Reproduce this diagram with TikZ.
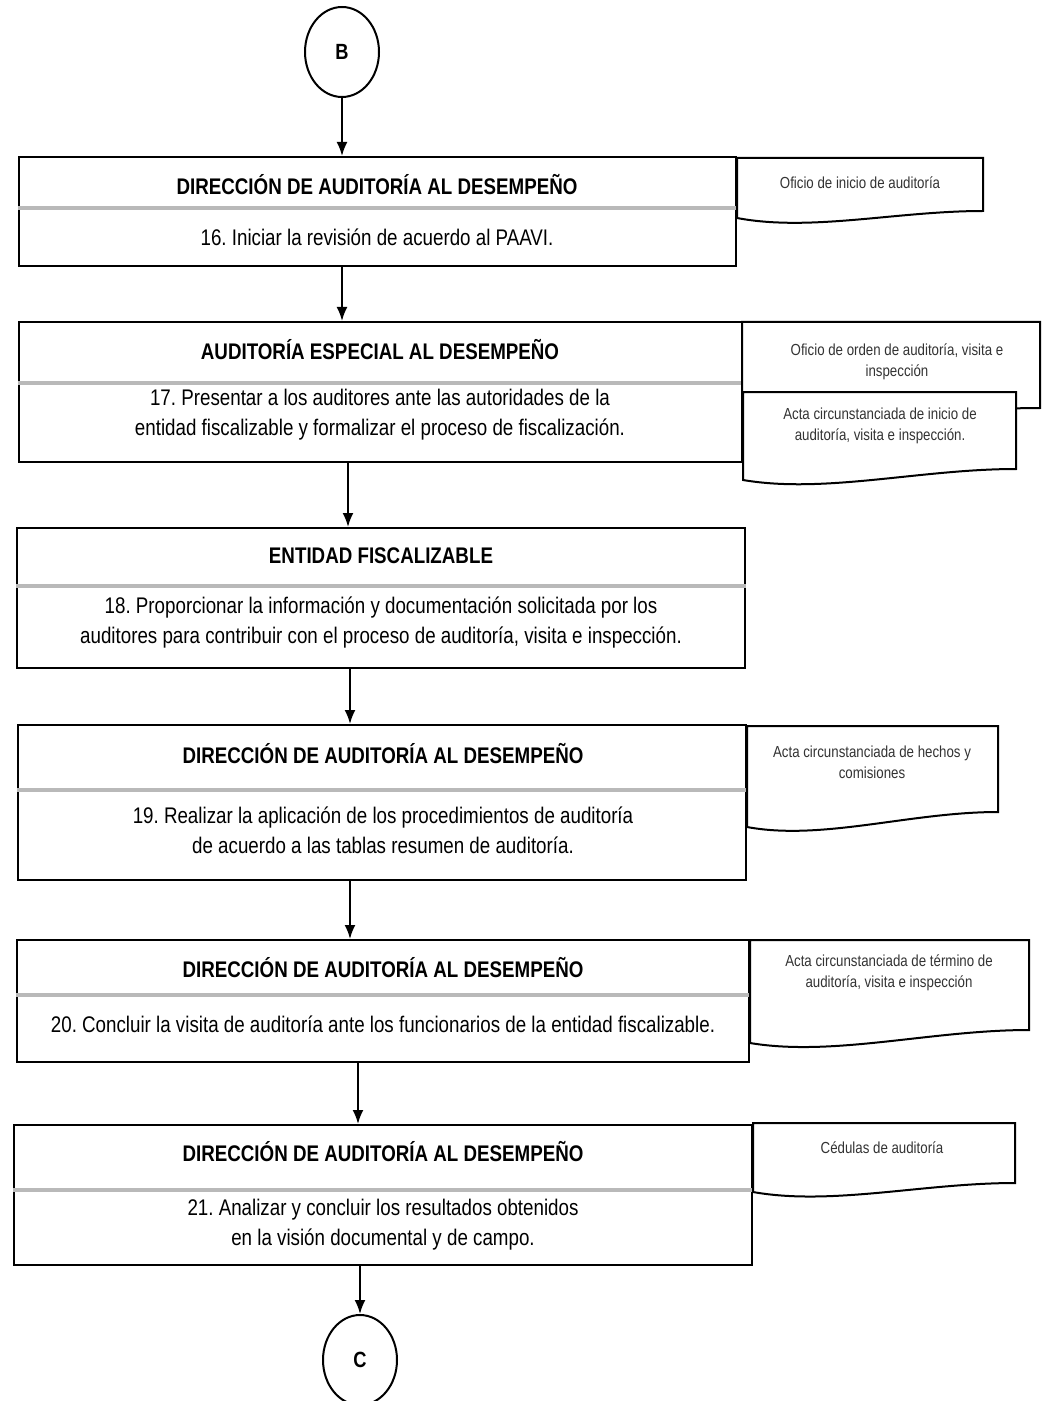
\documentclass[tikz,border=0pt]{standalone}
\usepackage{fontspec}
\setmainfont{Liberation Sans}[FakeStretch=0.83]
\usepackage{tikz}
\usetikzlibrary{arrows.meta,shapes.geometric}
\frenchspacing

% document symbol: x left, y top, x right, y bottom right, y bottom left
\newcommand{\docform}[5]{%
  \draw[docline] (#1,#2) -- (#3,#2) -- (#3,#4)
    .. controls ({#3-0.35*(#3-#1)},#4) and ({#1+0.3*(#3-#1)},{#5+14}) .. (#1,#5) -- cycle;}

\begin{document}
\begin{tikzpicture}[x=0.5pt,y=-0.5pt]
\tikzset{frame/.style = {shape=rectangle,draw,line width=1pt,inner sep=0pt}}
\tikzset{connector/.style = {shape=ellipse,draw,line width=1pt,minimum width=37pt,minimum height=45pt,inner sep=0pt,font=\bfseries\fontsize{11}{13}\selectfont}}
\tikzset{title/.style = {font=\bfseries\fontsize{11.3}{13}\selectfont}}
\tikzset{task/.style = {align=center,font=\fontsize{11.3}{15}\selectfont}}
\tikzset{divider/.style = {gray!55,line width=1.6pt}}
\tikzset{docline/.style = {draw,fill=white,line width=1pt}}
\tikzset{doctext/.style = {align=center,text=black!80,font=\fontsize{8}{10.5}\selectfont}}
\tikzset{edge/.style = {line width=1pt,-{Latex[length=7pt,width=5.5pt]}}}
\useasboundingbox (0,0) rectangle (1042,1401);

% connectors
\node[connector] (b) at (342,52) {B};
\node[connector] (c) at (360,1360) {C};

% frames
\node[frame,minimum width=358.5pt,minimum height=54.5pt] (f16) at (377.5,211.5) {};
\node[frame,minimum width=361.5pt,minimum height=70pt] (f17) at (380.5,392) {};
\node[frame,minimum width=364pt,minimum height=70pt] (f18) at (381,598) {};
\node[frame,minimum width=364pt,minimum height=77.5pt] (f19) at (382,802.5) {};
\node[frame,minimum width=366pt,minimum height=61pt] (f20) at (383,1001) {};
\node[frame,minimum width=369pt,minimum height=70pt] (f21) at (383,1195) {};

% dividers
\draw[divider] (f16.west |- 0,208) -- (f16.east |- 0,208);
\draw[divider] (f17.west |- 0,383) -- (f17.east |- 0,383);
\draw[divider] (f18.west |- 0,586) -- (f18.east |- 0,586);
\draw[divider] (f19.west |- 0,790) -- (f19.east |- 0,790);
\draw[divider] (f20.west |- 0,995) -- (f20.east |- 0,995);
\draw[divider] (f21.west |- 0,1190) -- (f21.east |- 0,1190);

% titles
\node[title] (t16) at (377,185) {DIRECCIÓN DE AUDITORÍA AL DESEMPEÑO};
\node[title] (t17) at (380,350) {AUDITORÍA ESPECIAL AL DESEMPEÑO};
\node[title] (t18) at (381,556) {ENTIDAD FISCALIZABLE};
\node[title] (t19) at (383,754) {DIRECCIÓN DE AUDITORÍA AL DESEMPEÑO};
\node[title] (t20) at (383,968) {DIRECCIÓN DE AUDITORÍA AL DESEMPEÑO};
\node[title] (t21) at (383,1152) {DIRECCIÓN DE AUDITORÍA AL DESEMPEÑO};

% tasks
\node[task] (s16) at (377,237) {16. Iniciar la revisión de acuerdo al PAAVI.};
\node[task] (s17) at (380,415) {17. Presentar a los auditores ante las autoridades de la\\entidad fiscalizable y formalizar el proceso de fiscalización.};
\node[task] (s18) at (381,622.5) {18. Proporcionar la información y documentación solicitada por los\\auditores para contribuir con el proceso de auditoría, visita e inspección.};
\node[task] (s19) at (383,830) {19. Realizar la aplicación de los procedimientos de auditoría\\de acuerdo a las tablas resumen de auditoría.};
\node[task] (s20) at (383,1024) {20. Concluir la visita de auditoría ante los funcionarios de la entidad fiscalizable.};
\node[task] (s21) at (383,1224.5) {21. Analizar y concluir los resultados obtenidos\\en la visión documental y de campo.};

% documents
\docform{737}{158}{983}{211}{218}
\node[doctext] (d16) at (860,183) {Oficio de inicio de auditoría};
\docform{742}{322}{1040}{408}{416}
\node[doctext] (d17a) at (897,362) {Oficio de orden de auditoría, visita e\\inspección};
\docform{743}{392}{1016}{469}{480}
\node[doctext] (d17b) at (880,426) {Acta circunstanciada de inicio de\\auditoría, visita e inspección.};
\docform{747}{726}{998}{812}{827}
\node[doctext] (d19) at (872,762) {Acta circunstanciada de hechos y\\comisiones};
\docform{750}{940}{1029}{1030}{1043}
\node[doctext] (d20) at (889,973) {Acta circunstanciada de término de\\auditoría, visita e inspección};
\docform{753}{1123}{1015}{1183}{1192}
\node[doctext] (d21) at (882,1148) {Cédulas de auditoría};

% edges
\coordinate (x18) at (348,0);
\coordinate (x19) at (350,0);
\coordinate (x21) at (358,0);
\draw[edge] (b.south) -- (f16.north -| b);
\draw[edge] (f16.south -| b) -- (f17.north -| b);
\draw[edge] (f17.south -| x18) -- (f18.north -| x18);
\draw[edge] (f18.south -| x19) -- (f19.north -| x19);
\draw[edge] (f19.south -| x19) -- (f20.north -| x19);
\draw[edge] (f20.south -| x21) -- (f21.north -| x21);
\draw[edge] (f21.south -| c) -- (c.north);
\end{tikzpicture}
\end{document}
